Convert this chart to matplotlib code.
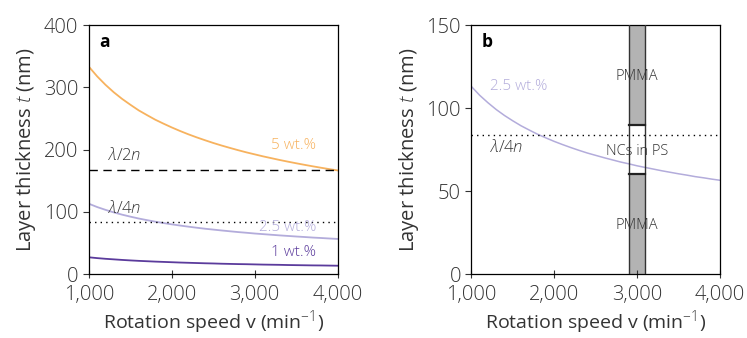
import matplotlib
matplotlib.use("Agg")
import matplotlib.pyplot as plt
from matplotlib.ticker import FuncFormatter

plt.rcParams["font.family"] = ["Open Sans", "DejaVu Sans"]
plt.rcParams["font.weight"] = "light"
plt.rcParams["mathtext.fontset"] = "custom"
plt.rcParams["mathtext.rm"] = "Open Sans:light"
plt.rcParams["mathtext.it"] = "Open Sans:italic:light"
plt.rcParams["text.color"] = "#333333"
plt.rcParams["axes.labelcolor"] = "#333333"
plt.rcParams["xtick.color"] = "#333333"
plt.rcParams["ytick.color"] = "#333333"

# rotation speed (min^-1) and layer thickness (nm)
speed = [1000, 1100, 1200, 1300, 1400, 1500, 1600, 1700, 1800, 1900, 2000,
         2100, 2200, 2300, 2400, 2500, 2600, 2700, 2800, 2900, 3000,
         3100, 3200, 3300, 3400, 3500, 3600, 3700, 3800, 3900, 4000]
t_5wt = [333, 317.5, 304, 292, 281.4, 272, 263, 255.4, 248, 241.6, 235.5,
         229.8, 224.5, 219.6, 215, 210.6, 206.5, 202.7, 199, 195.5, 192.3,
         189.1, 186.2, 183.3, 180.6, 178, 175.5, 173.1, 170.8, 168.6, 166.5]
t_25wt = [113, 107.7, 103.2, 99.1, 95.5, 92.3, 89.3, 86.7, 84.2, 82, 79.9,
          78, 76.2, 74.5, 72.9, 71.5, 70.1, 68.8, 67.5, 66.4, 65.2,
          64.2, 63.2, 62.2, 61.3, 60.4, 59.6, 58.7, 58, 57.2, 56.5]
t_1wt = [27, 25.7, 24.6, 23.7, 22.8, 22, 21.3, 20.7, 20.1, 19.6, 19.1,
         18.6, 18.2, 17.8, 17.4, 17.1, 16.7, 16.4, 16.1, 15.9, 15.6,
         15.3, 15.1, 14.9, 14.6, 14.4, 14.2, 14, 13.9, 13.7, 13.5]

half_wave = 167
quarter_wave = 83.5

# layer stack in panel b: (bottom, top, fill)
stack_x = [2900, 3100]
stack_layers = [(0, 60, "#b3b3b3"), (60, 90, "white"), (90, 150, "#b3b3b3")]

c_5 = "#f7b25e"
c_25 = "#b3acdb"
c_1 = "#5b3b9c"

thousands = FuncFormatter(lambda v, p: f"{int(v):,}")

fig = plt.figure(figsize=(7.47, 3.38), dpi=100)
ax_a = fig.add_axes([0.119, 0.189, 0.333, 0.737])
ax_b = fig.add_axes([0.631, 0.189, 0.333, 0.737])

for ax in (ax_a, ax_b):
    ax.set_xlim(1000, 4000)
    ax.set_xticks([1000, 2000, 3000, 4000])
    ax.xaxis.set_major_formatter(thousands)
    ax.tick_params(labelsize=14.5, length=4, width=0.8)
    ax.tick_params(axis="x", direction="inout", length=6, pad=5)
    ax.set_xlabel("Rotation speed v (min$^{-1}$)", fontsize=14, labelpad=2)
    ax.set_ylabel("Layer thickness $t$ (nm)", fontsize=14.5)
    for s in ax.spines.values():
        s.set_linewidth(0.9)

# panel a
ax_a.set_ylim(0, 400)
ax_a.set_yticks([0, 100, 200, 300, 400])
ax_a.plot(speed, t_5wt, color=c_5, lw=1.3)
ax_a.plot(speed, t_25wt, color=c_25, lw=1.3)
ax_a.plot(speed, t_1wt, color=c_1, lw=1.3)
ax_a.axhline(half_wave, color="black", lw=1, ls=(0, (6, 4)))
ax_a.axhline(quarter_wave, color="black", lw=1, ls=(0, (1, 3)))
ax_a.text(1230, 191, r"$\lambda/2n$", fontsize=12, va="center")
ax_a.text(1230, 106, r"$\lambda/4n$", fontsize=12, va="center")
ax_a.text(3740, 207, "5 wt.%", color=c_5, fontsize=11, ha="right", va="center")
ax_a.text(3740, 75, "2.5 wt.%", color=c_25, fontsize=11, ha="right", va="center")
ax_a.text(3740, 34, "1 wt.%", color=c_1, fontsize=11, ha="right", va="center")
ax_a.text(0.04, 0.93, "a", transform=ax_a.transAxes, fontsize=12.5, fontweight="bold",
          color="black", va="center")

# panel b
ax_b.set_ylim(0, 150)
ax_b.set_yticks([0, 50, 100, 150])
for bottom, top, fill in stack_layers:
    ax_b.fill_between(stack_x, bottom, top, color=fill, lw=0, zorder=1)
ax_b.plot([stack_x[0]] * 2, [0, 150], color="#333333", lw=1, zorder=3)
ax_b.plot([stack_x[1]] * 2, [0, 150], color="#333333", lw=1, zorder=3)
for y in (60, 90):
    ax_b.plot(stack_x, [y, y], color="#222222", lw=1.6, zorder=3)
ax_b.plot(speed, t_25wt, color=c_25, lw=1.1, zorder=2)
ax_b.axhline(quarter_wave, color="black", lw=1, ls=(0, (1, 3)), zorder=2)
ax_b.text(1220, 113, "2.5 wt.%", color=c_25, fontsize=11, va="center")
ax_b.text(1220, 76, r"$\lambda/4n$", fontsize=12, va="center")
ax_b.text(3000, 119, "PMMA", fontsize=10.5, ha="center", va="center", zorder=4)
ax_b.text(3000, 74, "NCs in PS", fontsize=10.5, ha="center", va="center", zorder=4)
ax_b.text(3000, 29.5, "PMMA", fontsize=10.5, ha="center", va="center", zorder=4)
ax_b.text(0.04, 0.93, "b", transform=ax_b.transAxes, fontsize=12.5, fontweight="bold",
          color="black", va="center")

fig.savefig("out.png", dpi=100)
